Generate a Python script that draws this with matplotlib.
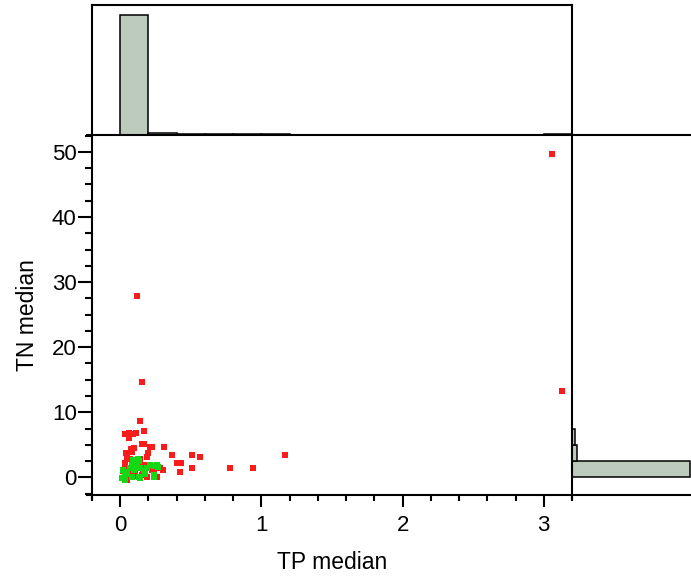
import numpy as np
import matplotlib.pyplot as plt
from matplotlib.lines import Line2D
from matplotlib.ticker import MultipleLocator

plt.rcParams['font.family'] = ['Liberation Sans', 'DejaVu Sans']

# Red group (TP median, TN median)
red_tp = [3.06, 3.13, 0.12, 0.151, 0.14, 0.166, 0.035, 0.06, 0.09, 0.113,
          0.059, 0.153, 0.165, 0.21, 0.224, 0.31, 0.076, 0.094, 0.04, 0.2,
          0.366, 0.51, 0.566, 1.17, 0.19, 0.035, 0.035, 0.094, 0.13, 0.165,
          0.2, 0.40, 0.43, 0.425, 0.51, 0.774, 0.943, 0.283, 0.306, 0.224,
          0.236, 0.059, 0.106, 0.153, 0.19, 0.26, 0.047, 0.02, 0.07, 0.05,
          0.11, 0.14, 0.10, 0.06, 0.16, 0.08]
red_tn = [49.7, 13.3, 27.8, 14.7, 8.6, 7.2, 6.6, 6.9, 6.6, 6.9,
          6.0, 5.1, 5.2, 4.7, 4.7, 4.7, 4.4, 4.5, 3.7, 3.8,
          3.4, 3.4, 3.2, 3.4, 3.1, 2.2, 1.6, 2.35, 2.4, 1.9,
          1.6, 2.15, 2.15, 0.9, 1.5, 1.5, 1.5, 1.4, 1.1, 1.1,
          0.8, 0.35, 0.6, 0.35, 0.1, 0.1, -0.4, 1.0, 2.8, 3.0,
          1.8, 2.9, 0.2, 1.3, 1.2, 3.9]

# Green group
green_tp = [0.123, 0.09, 0.13, 0.083, 0.118, 0.14, 0.212, 0.26, 0.27, 0.26,
            0.023, 0.035, 0.094, 0.165, 0.177, 0.236, 0.012, 0.035, 0.13, 0.14,
            0.083, 0.05, 0.07, 0.19, 0.24, 0.236, 0.125]
green_tn = [2.9, 2.6, 2.5, 1.9, 1.6, 1.4, 1.9, 1.9, 1.6, 1.8,
            1.1, 0.86, 1.1, 1.1, 0.6, 0.35, -0.15, -0.4, 0.1, -0.15,
            0.1, 0.5, 1.5, 1.5, 1.7, 0.1, 2.8]

# Marginal histogram counts
tp_bin = 0.2
tp_counts = [470, 8, 3, 3, 3, 2, 0, 0, 0, 0, 0, 0, 0, 0, 0, 3]
tn_bin = 2.5
tn_counts = [470, 20, 10, 1, 0, 1, 0, 0, 0, 0, 0, 1, 0, 0, 0, 0, 0, 0, 0, 1]
tp_left = tp_bin * np.arange(len(tp_counts))
tn_bottom = tn_bin * np.arange(len(tn_counts))

W, H = 691, 576
fig = plt.figure(figsize=(W / 100, H / 100), dpi=100)

x0, x1 = 92 / W, 572 / W
y0, y1 = 1 - 495 / H, 1 - 135 / H
ax = fig.add_axes([x0, y0, x1 - x0, y1 - y0])
ax_top = fig.add_axes([x0, y1, x1 - x0, (1 - 5 / H) - y1])
ax_right = fig.add_axes([x1, y0, 1 - x1, y1 - y0])

fill = '#bccbbc'
lw = 1.5

# main scatter
ax.plot(red_tp, red_tn, 's', color='#f81c1c', markersize=5, markeredgewidth=0)
ax.plot(green_tp, green_tn, 's', color='#14d814', markersize=5, markeredgewidth=0)
ax.set_xlim(-0.2, 3.2)
ax.set_ylim(-2.7, 52.6)
ax.xaxis.set_major_locator(MultipleLocator(1))
ax.xaxis.set_minor_locator(MultipleLocator(0.2))
ax.yaxis.set_major_locator(MultipleLocator(10))
ax.yaxis.set_minor_locator(MultipleLocator(2.5))
ax.tick_params(axis='x', which='major', length=8.4, width=lw, pad=6, labelsize=16)
ax.tick_params(axis='x', which='minor', length=4, width=lw)
ax.tick_params(axis='y', which='major', length=10, width=lw, pad=1, labelsize=16)
ax.tick_params(axis='y', which='minor', length=5, width=lw)
ax.spines['top'].set_visible(False)
ax.spines['right'].set_visible(False)
for s in ['left', 'bottom']:
    ax.spines[s].set_linewidth(lw)
ax.set_xlabel('TP median', fontsize=16.5, labelpad=11)
ax.set_ylabel('TN median', fontsize=16.5, labelpad=9)

# top histogram
ax_top.bar(tp_left, tp_counts, width=tp_bin, align='edge', color=fill,
           edgecolor='black', linewidth=1.1)
ax_top.set_xlim(-0.2, 3.2)
ax_top.set_ylim(0, 509)
ax_top.set_xticks([])
ax_top.set_yticks([])
for s in ax_top.spines.values():
    s.set_linewidth(lw)

# right histogram
ax_right.barh(tn_bottom, tn_counts, height=tn_bin, align='edge', color=fill,
              edgecolor='black', linewidth=1.1)
ax_right.set_ylim(-2.7, 52.6)
ax_right.set_xlim(0, 472)
ax_right.set_xticks([])
ax_right.set_yticks([])
ax_right.spines['right'].set_visible(False)
for s in ax_right.spines.values():
    s.set_linewidth(lw)
    s.set_zorder(5)

# little overhangs of the frame lines at the corners
for xs, ys in [([86, 92], [135, 135]), ([86, 92], [495, 495]),
               ([92, 92], [495, 501]), ([572, 572], [495, 501])]:
    fig.add_artist(Line2D([v / W for v in xs], [1 - v / H for v in ys],
                          color='black', linewidth=lw, solid_capstyle='butt'))

fig.savefig('out.png', dpi=100)
